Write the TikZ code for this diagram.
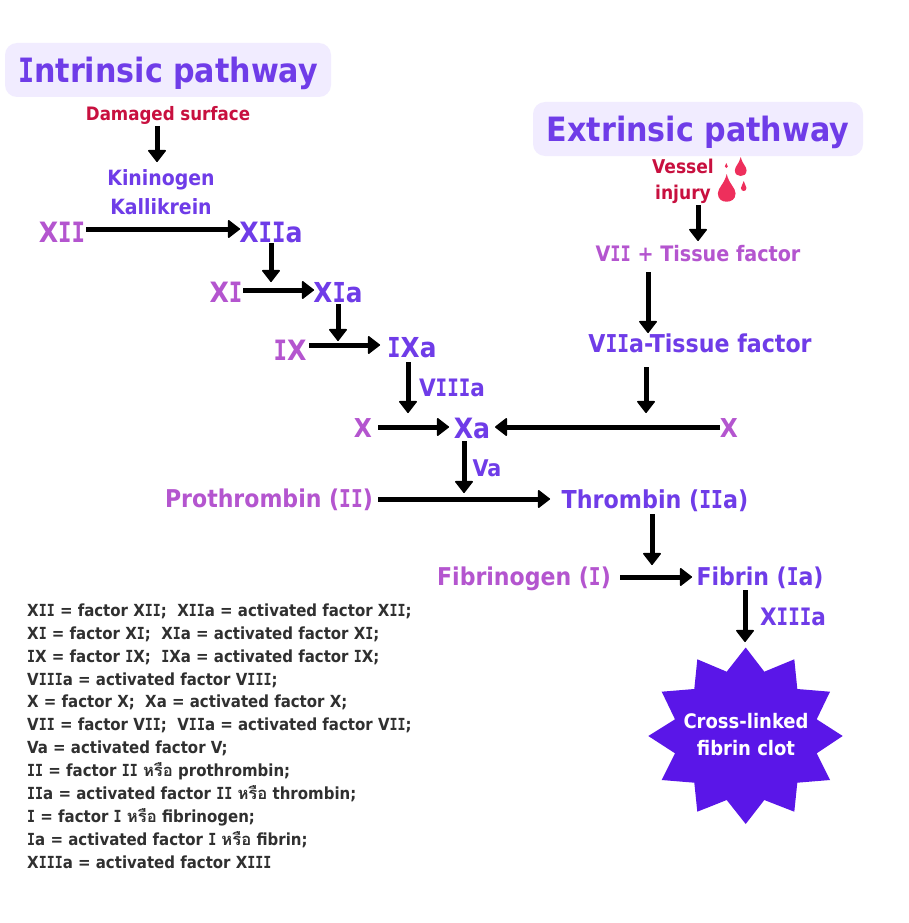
\documentclass[tikz,border=0pt]{standalone}
\usepackage{fontspec}
\setmainfont{DejaVu Sans Condensed}[BoldFont={DejaVu Sans Condensed Bold}]
\newfontfamily\thaifont[Script=Thai]{Loma}
\newfontfamily\serifI[FakeStretch=0.8]{DejaVu Sans Mono}
\usetikzlibrary{arrows.meta,calc}
\definecolor{violetA}{HTML}{6F3CE8}
\definecolor{orchid}{HTML}{B455CF}
\definecolor{crimson}{HTML}{C8103F}
\definecolor{pale}{HTML}{F1ECFF}
\definecolor{starfill}{HTML}{5A16E8}
\definecolor{dropred}{HTML}{EE2F5C}
\definecolor{legendtext}{HTML}{303030}
\newcommand{\blooddrop}[4]{\fill[dropred] (#1,#2) .. controls ({#1+0.12*#3},{#2+0.35*(#4-#2)}) and ({#1+0.5*#3},{#2+0.5*(#4-#2)}) .. ({#1+0.5*#3},{#2+0.7*(#4-#2)}) .. controls ({#1+0.5*#3},{#4-0.08*(#4-#2)}) and ({#1+0.25*#3},#4) .. (#1,#4) .. controls ({#1-0.25*#3},#4) and ({#1-0.5*#3},{#4-0.08*(#4-#2)}) .. ({#1-0.5*#3},{#2+0.7*(#4-#2)}) .. controls ({#1-0.5*#3},{#2+0.5*(#4-#2)}) and ({#1-0.12*#3},{#2+0.35*(#4-#2)}) .. (#1,#2) -- cycle;}
\newcommand{\hrue}{{\thaifont\bfseries หรือ}}
\newcommand{\Iz}{{\serifI\bfseries I}}
\tikzset{
 x=1pt,y=-1pt,
 lab/.style n args={2}{inner sep=0pt,outer sep=0pt,text=#2,font=\fontsize{#1}{#1}\selectfont\bfseries,text height=0.73*#1pt,text depth=0pt},
 arr/.style={line width=5pt,-{Triangle[length=12.5pt,width=19pt,line width=1.5pt,round]},black},
 titlebox/.style={fill=pale,rounded corners=12pt},
}
\begin{document}
\begin{tikzpicture}
\useasboundingbox (0,0) rectangle (909,923);
\fill[white] (0,0) rectangle (909,923);
\fill[pale,rounded corners=12pt] (5,43) rectangle (331,97);
\fill[pale,rounded corners=12pt] (533,102) rectangle (863,156);
\node[lab={33.5}{violetA}] (intrinsic) at (168,70) {\Iz{}ntrinsic pathway};
\node[lab={33.5}{violetA}] (extrinsic) at (698,129) {Extrinsic pathway};
\node[lab={18.5}{crimson}] (damaged) at (168,114) {Damaged surface};
\node[lab={21}{violetA}] (kininogen) at (161,178) {Kininogen};
\node[lab={21}{violetA}] (kallikrein) at (161,207) {Kallikrein};
\node[lab={28}{orchid}] (XII) at (62,232) {X\Iz\Iz};
\node[lab={28}{violetA}] (XIIa) at (271,232) {X\Iz\Iz{}a};
\node[lab={28}{orchid}] (XI) at (226,292) {X\Iz};
\node[lab={27.5}{violetA}] (XIa) at (338,292) {X\Iz{}a};
\node[lab={28}{orchid}] (IX) at (290,350) {\Iz{}X};
\node[lab={27.5}{violetA}] (IXa) at (412,347) {\Iz{}Xa};
\node[lab={24}{violetA}] (VIIIa) at (452,388) {V\Iz\Iz\Iz{}a};
\node[lab={26}{orchid}] (Xl) at (363,428) {X};
\node[lab={28}{violetA}] (Xa) at (472,428) {Xa};
\node[lab={26}{orchid}] (Xr) at (729,428) {X};
\node[lab={23}{violetA}] (Va) at (487,468) {Va};
\node[lab={24.5}{orchid}] (prothrombin) at (269,499) {Prothrombin (\Iz\Iz)};
\node[lab={24.7}{violetA}] (thrombin) at (655,499) {Thrombin (\Iz\Iz{}a)};
\node[lab={24.5}{orchid}] (fibrinogen) at (524,577) {Fibrinogen (\Iz)};
\node[lab={24.5}{violetA}] (fibrin) at (760,577) {Fibrin (\Iz{}a)};
\node[lab={24}{violetA}] (XIIIa) at (793,617) {X\Iz\Iz\Iz{}a};
\node[lab={19}{crimson}] (vessel) at (683,167) {Vessel};
\node[lab={19}{crimson}] (injury) at (683,193) {injury};
\node[lab={21.3}{orchid}] (VIIT) at (698,254) {V\Iz\Iz{} + Tissue factor};
\node[lab={24.6}{violetA}] (VIIaT) at (700,344) {V\Iz\Iz{}a-Tissue factor};
\blooddrop{726.7}{174}{17.7}{201.7}
\blooddrop{740.7}{157}{11.7}{176}
\blooddrop{743.7}{181}{5.5}{191}
\blooddrop{726.3}{163}{3}{168}
\fill[starfill] (745.7,647.5) -- (764.3,671.7) -- (794.3,659.3) -- (797.3,689) -- (830,691.7) -- (816.7,719.3) -- (842.7,736) -- (816.7,753.3) -- (830,780) -- (797.3,782.7) -- (794.3,811.7) -- (764.3,800) -- (745.7,824) -- (726.7,800) -- (697.3,811.7) -- (694.3,782.7) -- (661.7,780) -- (675,753.3) -- (648.3,736) -- (675,719.3) -- (661.7,691.7) -- (694.3,689) -- (697.3,659.3) -- (726.7,671.7) -- cycle;
\node[lab={20}{white},align=center,text height=,text depth=,font=\fontsize{20}{27}\selectfont\bfseries] (clot) at (746,735) {Cross-linked\\fibrin clot};
\node[anchor=north west,inner sep=0pt,align=left,text=legendtext,font=\fontsize{16.65}{22.9}\selectfont\bfseries] (legend) at (27,603.5) {%
X\Iz\Iz{} = factor X\Iz\Iz;~ X\Iz\Iz{}a = activated factor X\Iz\Iz;\\
X\Iz{} = factor X\Iz;~ X\Iz{}a = activated factor X\Iz;\\
\Iz{}X = factor \Iz{}X;~ \Iz{}Xa = activated factor \Iz{}X;\\
V\Iz\Iz\Iz{}a = activated factor V\Iz\Iz\Iz;\\
X = factor X;~ Xa = activated factor X;\\
V\Iz\Iz{} = factor V\Iz\Iz;~ V\Iz\Iz{}a = activated factor V\Iz\Iz;\\
Va = activated factor V;\\
\Iz\Iz{} = factor \Iz\Iz{} \hrue{} prothrombin;\\
\Iz\Iz{}a = activated factor \Iz\Iz{} \hrue{} thrombin;\\
\Iz{} = factor \Iz{} \hrue{} fibrinogen;\\
\Iz{}a = activated factor \Iz{} \hrue{} fibrin;\\
X\Iz\Iz\Iz{}a = activated factor X\Iz\Iz\Iz};
\coordinate (onXI) at (271,282);
\coordinate (onIX) at (338,341);
\coordinate (onXl) at (408,413);
\coordinate (onXr) at (646,413);
\coordinate (onPro) at (464,493);
\coordinate (onFib) at (652,565);
\draw[arr] ($(damaged)+(-11,12)$) -- ($(kininogen)+(-4,-16)$);
\draw[arr] ($(XII)+(24,-3)$) -- ($(XIIa)+(-31,-3)$);
\draw[arr] ($(XIIa)+(0,11)$) -- (onXI);
\draw[arr] ($(XI)+(17,-2)$) -- ($(XIa)+(-24,-2)$);
\draw[arr] ($(XIa)+(0,12)$) -- (onIX);
\draw[arr] ($(IX)+(19,-5)$) -- ($(IXa)+(-32,-2)$);
\draw[arr] ($(IXa)+(-4,15)$) -- (onXl);
\draw[arr] ($(Xl)+(15,-1)$) -- ($(Xa)+(-23,-1)$);
\draw[arr] ($(Xr)+(-9,-1)$) -- ($(Xa)+(23,-1)$);
\draw[arr] ($(VIIaT)+(-54,23)$) -- (onXr);
\draw[arr] ($(injury)+(15,12)$) -- ($(VIIT)+(0,-13)$);
\draw[arr] ($(VIIT)+(-50,18)$) -- ($(VIIaT)+(-52,-11)$);
\draw[arr] ($(Xa)+(-8,13)$) -- (onPro);
\draw[arr] ($(prothrombin)+(109,0)$) -- ($(thrombin)+(-105,0)$);
\draw[arr] ($(thrombin)+(-3,15)$) -- (onFib);
\draw[arr] ($(fibrinogen)+(96,0)$) -- ($(fibrin)+(-68,0)$);
\draw[arr] ($(fibrin)+(-15,13)$) -- ($(clot)+(-1,-93)$);
\end{tikzpicture}
\end{document}
